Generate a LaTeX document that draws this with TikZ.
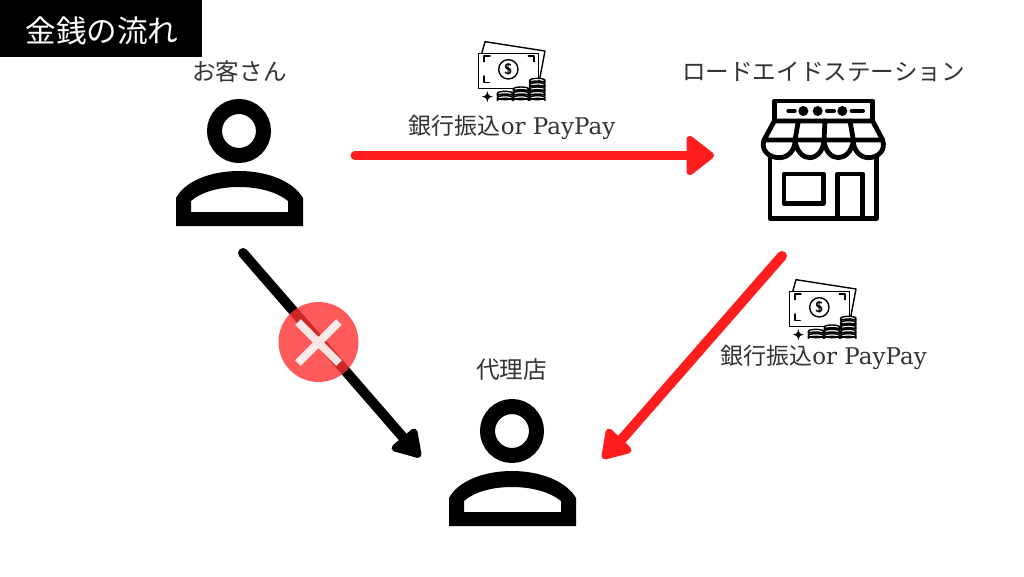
\documentclass[tikz,border=0pt]{standalone}
\usepackage{fontspec}
\usepackage{tikz}
\setmainfont{DejaVu Serif}
\newfontfamily\cjk{Noto Sans CJK JP}[Scale=1]
\newcommand{\lbl}[1]{{\cjk #1}}
\definecolor{flowred}{HTML}{FF1D1D}
\definecolor{xred}{HTML}{FF3131}
\tikzset{
  x=1pt,y=-1pt,
  caption/.style={inner sep=0pt,text=black!80,font=\fontsize{23.6}{26}\selectfont\cjk},
  paylabel/.style={inner sep=0pt,text=black!80,font=\fontsize{23}{26}\selectfont},
  title/.style={inner sep=0pt,text=white,font=\fontsize{30.6}{34}\selectfont\cjk},
  redline/.style={draw=flowred,line width=9pt,line cap=round},
  diagred/.style={draw=flowred,line width=10pt,line cap=round},
  blackline/.style={draw=black,line width=10pt,line cap=round},
  redhead/.style={fill=flowred,draw=flowred,line width=7pt,line join=round},
  blackhead/.style={fill=black,draw=black,line width=7pt,line join=round},
  iconline/.style={draw=black,line width=1.4pt,line join=round,line cap=round,fill=white},
  shopline/.style={draw=black,line width=4.8pt,line join=round,line cap=round},
}
\newcommand{\person}[2]{%
\begin{scope}[shift={(#1,#2)}]
  \draw[line width=15pt,draw=black] (0,0) circle[radius=24.5];
  \fill[black,even odd rule]
    (-63,95) -- (-63,67) .. controls (-54,50) and (-28,40) .. (0,40) .. controls (28,40) and (54,50) .. (64,67) -- (64,95) -- cycle
    (-48,81) -- (49,81) -- (49,70) .. controls (38,61) and (20,56) .. (0,56) .. controls (-20,56) and (-38,61) .. (-48,70) -- cycle;
\end{scope}}
\newcommand{\coinstack}[3]{%
  \foreach \k in {1,...,#3}{
    \pgfmathsetmacro{\yy}{#2-(\k-1)*13}
    \draw[iconline] ({#1-23},\yy-8) -- ({#1-23},\yy) arc[start angle=180,end angle=360,x radius=23,y radius=6] -- ({#1+23},\yy-8) arc[start angle=0,end angle=360,x radius=23,y radius=6];
  }}
\newcommand{\money}[2]{%
\begin{scope}[shift={(#1,#2)},x=0.3333pt,y=-0.3333pt]
  \draw[iconline] (65,68) -- (75,32) -- (255,60) -- (238,150) -- (225,150) -- cycle;
  \draw[iconline] (55,68) -- (235,68) -- (235,172) -- (55,172) -- cycle;
  \draw[iconline,fill=none] (72,92) -- (72,75) -- (90,75) (205,75) -- (222,75) -- (222,92) (72,135) -- (72,155) -- (88,155);
  \draw[iconline,fill=none] (145,115) circle[radius=29];
  \node[inner sep=0pt,font=\fontsize{15}{15}\selectfont\bfseries\sffamily] (d#1) at (145,115) {\$};
  \coinstack{135}{208}{2}
  \coinstack{183}{208}{3}
  \coinstack{232}{208}{5}
  \fill[black] (82,180) .. controls (84,192) and (87,195) .. (99,197) .. controls (87,199) and (84,202) .. (82,214) .. controls (80,202) and (77,199) .. (65,197) .. controls (77,195) and (80,192) .. (82,180) -- cycle;
\end{scope}}
\begin{document}
\begin{tikzpicture}
\useasboundingbox (0,0) rectangle (1024,576);
\fill[white] (0,0) rectangle (1024,576);
\fill[black] (0,0) rectangle (202,57);
\node[title] (t) at (102,31) {金銭の流れ};
\node[caption] (c1) at (239.5,71.5) {お客さん};
\node[caption] (c2) at (823.5,71.5) {ロードエイドステーション};
\node[caption] (c3) at (511.5,369.5) {代理店};
\node[paylabel] (p1) at (512,127) {\lbl{銀行振込}or PayPay};
\node[paylabel] (p2) at (823.5,357.5) {\lbl{銀行振込}or PayPay};
\person{239}{131}
\person{512}{431}
\money{460}{31}
\money{771}{269}
% store
\begin{scope}[shift={(740,85)},x=0.3333pt,y=-0.3333pt]
  \draw[shopline] (103,108) -- (103,48) -- (398,48) -- (398,108);
  \draw[shopline] (72,165) -- (103,108) -- (398,108) -- (428,165) -- cycle;
  \draw[shopline] (175,108) -- (165,165) (255,108) -- (252,165) (330,108) -- (340,165);
  \draw[shopline] (72,165) .. controls (62,195) and (85,218) .. (118,218) .. controls (145,218) and (165,195) .. (165,168)
     .. controls (170,200) and (190,218) .. (208,218) .. controls (230,218) and (248,200) .. (252,168)
     .. controls (256,200) and (275,218) .. (295,218) .. controls (315,218) and (335,200) .. (340,168)
     .. controls (340,195) and (360,218) .. (385,218) .. controls (415,218) and (438,195) .. (428,165);
  \draw[shopline] (90,215) -- (90,400) -- (410,400) -- (410,215);
  \draw[shopline] (132,267) rectangle (250,355);
  \draw[shopline] (292,400) -- (292,267) -- (368,267) -- (368,400);
  \fill[black] (190,78) circle[radius=15] (233,78) circle[radius=15] (307,78) circle[radius=15];
  \draw[shopline] (146,78) -- (163,78) (262,78) -- (281,78) (336,78) -- (368,78);
\end{scope}
% connectors
\coordinate (a1) at (355,155.5);
\coordinate (a2) at (697,155.5);
\coordinate (b1) at (243,253);
\coordinate (b2) at (408,443);
\coordinate (e1) at (782,256);
\coordinate (e2) at (615,447);
\draw[redline] (a1) -- (a2);
\draw[redhead] (690,139.5) -- (710.5,155.5) -- (690,171.5) -- cycle;
\draw[blackline] (b1) -- (b2);
\draw[blackhead] (414,432) -- (418,454.5) -- (395,448) -- cycle;
\draw[diagred] (e1) -- (e2);
\draw[redhead] (628,450) -- (605,456) -- (609,432) -- cycle;
% prohibition mark
\node[circle,fill=xred,fill opacity=.8,minimum size=80pt,inner sep=0pt] (x) at (318.5,342) {};
\draw[white,opacity=.87,line width=8pt] (298,322) -- (339,363) (339,322) -- (298,363);
\end{tikzpicture}
\end{document}
